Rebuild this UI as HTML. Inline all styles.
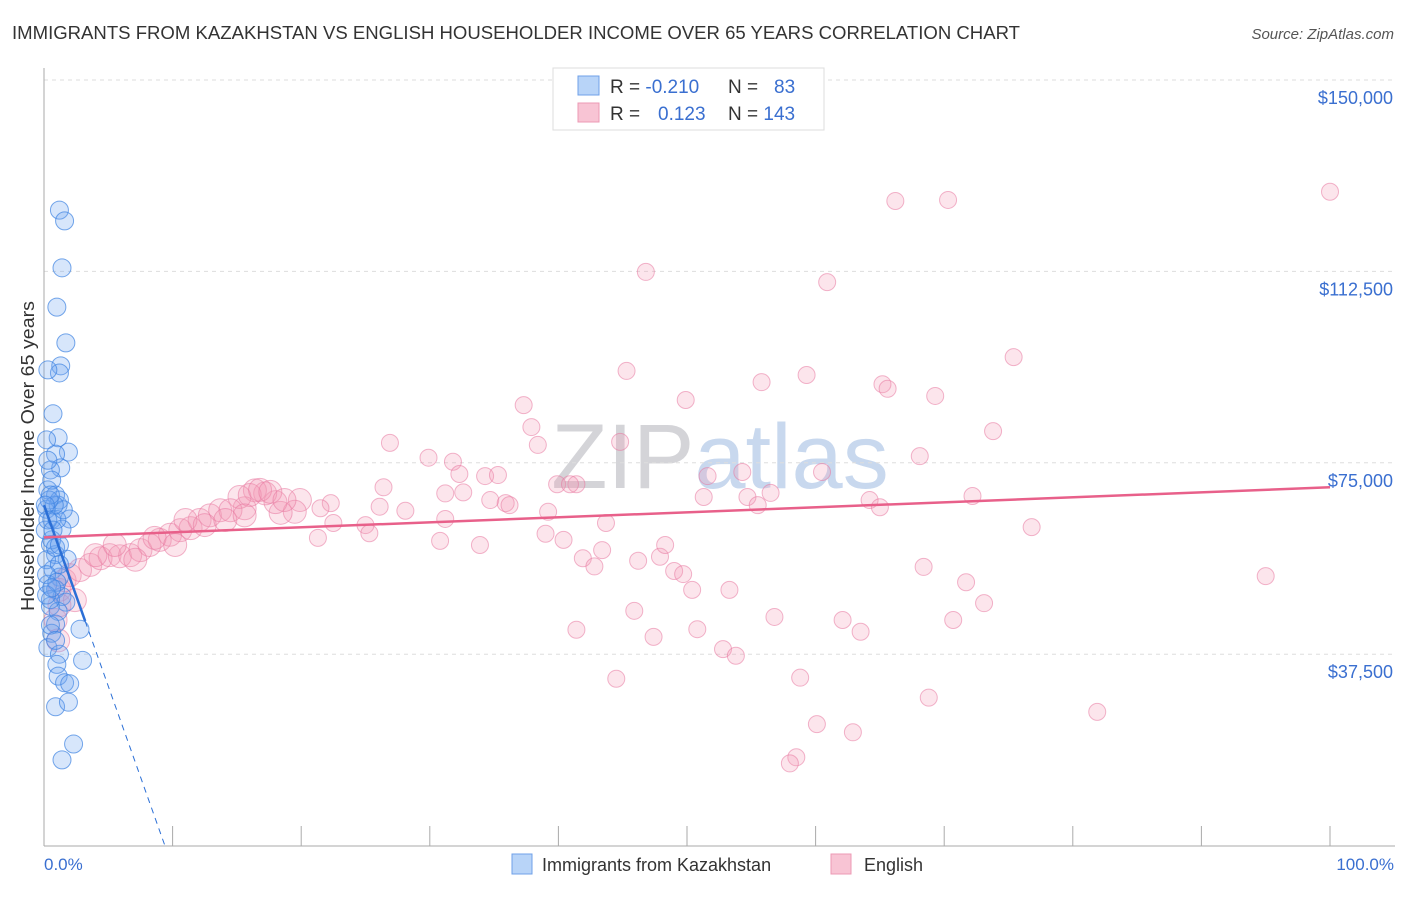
<!DOCTYPE html>
<html><head><meta charset="utf-8"><style>
body{margin:0;background:#fff;font-family:"Liberation Sans",sans-serif;}
svg text{font-family:"Liberation Sans",sans-serif;}
</style></head><body>
<svg id="c" width="1406" height="892" xmlns="http://www.w3.org/2000/svg">
<text x="12" y="39" font-size="18.6" fill="#333" textLength="1008" lengthAdjust="spacingAndGlyphs">IMMIGRANTS FROM KAZAKHSTAN VS ENGLISH HOUSEHOLDER INCOME OVER 65 YEARS CORRELATION CHART</text>
<text x="1394" y="39" font-size="15" fill="#555" font-style="italic" text-anchor="end">Source: ZipAtlas.com</text>
<text x="720" y="488" font-size="92" fill="#d8dde6" text-anchor="middle" font-family="Liberation Serif"><tspan fill="#d4d4d8">ZIP</tspan><tspan fill="#c8d8ee" font-family="Liberation Sans">atlas</tspan></text>
<g id="grid"></g><g id="axes"></g><g id="pts"></g><g id="trend"></g>
<text transform="translate(34,456) rotate(-90)" font-size="18" fill="#333" text-anchor="middle" textLength="310" lengthAdjust="spacingAndGlyphs">Householder Income Over 65 years</text>
<text x="44" y="870" font-size="17" fill="#3a6fd0">0.0%</text>
<text x="1394" y="870" font-size="17" fill="#3a6fd0" text-anchor="end">100.0%</text>
<g>
<rect x="553" y="68" width="271" height="62" fill="#fff" stroke="#ddd"/>
<rect x="578" y="76" width="21" height="19" fill="#b8d4f8" stroke="#6fa0e8"/>
<rect x="578" y="103" width="21" height="19" fill="#f8c4d4" stroke="#ec9ab4"/>
<text x="610" y="93" font-size="19" fill="#333">R = <tspan fill="#3a6fd0">-0.210</tspan></text>
<text x="728" y="93" font-size="19" fill="#333">N = <tspan fill="#3a6fd0" x="774">83</tspan></text>
<text x="610" y="120" font-size="19" fill="#333">R = <tspan fill="#3a6fd0" x="658">0.123</tspan></text>
<text x="728" y="120" font-size="19" fill="#333">N = <tspan fill="#3a6fd0">143</tspan></text>
</g>
<g>
<rect x="512" y="854" width="20" height="20" fill="#b8d4f8" stroke="#6fa0e8"/>
<text x="542" y="871" font-size="18" fill="#333">Immigrants from Kazakhstan</text>
<rect x="831" y="854" width="20" height="20" fill="#f8c4d4" stroke="#ec9ab4"/>
<text x="864" y="871" font-size="18" fill="#333">English</text>
</g>
</svg>
<script>
const yTicks=[37500,75000,112500,150000];
const yTickLabels=["$37,500","$75,000","$112,500","$150,000"];
const bluePct=[1.2,1.6,1.4,1.0,1.7,1.3,1.2,0.3,0.7,1.1,1.9,0.9,1.3,0.5,0.3,0.9,1.1,2.0,0.2,0.6,1.4,0.5,0.9,1.8,0.7,1.2,0.3,0.9,1.4,1.7,0.5,1.1,0.9,2.8,0.6,0.3,1.2,3.0,1.0,1.1,1.6,2.0,0.9,1.9,2.3,1.4,0.5,0.2,0.6,0.1,1.0,0.6,0.3,0.2,1.2,1.5,0.8,0.4,0.5,0.9,1.2,0.2,0.5,0.9,0.1,0.3,0.7,1.0,0.2,0.6,1.2];
const blueVal=[124.5,122.4,113.2,105.5,98.5,94.0,92.6,93.2,84.6,79.9,77.1,76.7,74.0,73.6,69.7,68.7,66.7,64.0,65.9,63.9,62.0,59.0,57.0,56.1,54.1,52.6,51.2,50.2,48.8,47.7,46.9,45.9,43.4,42.4,41.6,38.8,37.5,36.3,35.5,33.2,31.9,31.7,27.2,28.1,19.9,16.8,48.2,56.0,59.9,61.8,63.9,71.6,75.5,79.5,67.7,65.8,66.7,67.7,68.7,58.4,55.1,53.1,43.2,40.2,66.7,63.8,61.8,51.6,49.1,50.5,58.9];
const pinkPct=[100,66.2,70.3,46.8,60.9,75.4,45.3,59.3,55.8,65.2,65.6,69.3,49.9,37.3,37.9,73.8,26.9,38.4,44.8,29.9,31.8,32.3,34.3,35.3,41.4,39.9,40.9,54.3,51.6,60.5,68.1,26.4,31.2,32.6,34.7,35.9,36.2,51.3,54.7,55.5,56.5,64.2,65.0,72.2,39.2,43.7,76.8,31.2,28.1,26.1,25.0,22.3,22.5,21.5,19.9,19.5,18.4,18.0,17.2,16.4,15.6,15.2,21.3,25.3,30.8,33.9,39.0,40.4,43.4,41.9,42.8,46.2,47.9,48.3,49.0,49.7,50.4,53.3,68.4,71.7,73.1,95.0,45.9,41.4,47.4,50.8,56.8,62.1,63.5,70.7,52.8,53.8,58.8,44.5,68.8,81.9,60.1,62.9,58.5,58.0,
1.2,1.6,2.0,2.8,3.6,4.4,5.1,5.9,6.7,7.5,8.2,9.0,9.8,10.6,11.4,12.1,12.9,13.7,14.5,16.0,16.8,17.6,18.7,0.9,1.2,1.1,2.4,4.0,5.5,7.1,8.6,10.2,11.0,12.5,14.1,15.6];
const pinkVal=[128.1,126.3,126.5,112.4,110.4,95.7,93.0,92.2,90.8,90.4,89.5,88.1,87.3,86.3,82.0,81.2,78.9,78.5,79.1,76.0,75.2,72.8,72.4,72.6,70.8,70.8,70.8,73.2,72.4,73.2,76.3,70.2,69.0,69.2,67.7,67.1,66.7,68.3,68.3,66.7,69.1,67.7,66.3,68.5,65.4,63.2,62.4,64.0,65.6,66.4,62.8,67.1,63.2,66.1,67.7,65.4,65.2,67.3,69.0,69.6,66.1,68.3,60.3,61.2,59.7,58.9,61.1,59.9,57.9,56.3,54.7,55.8,56.6,58.9,53.8,53.2,50.1,50.1,54.6,51.6,47.5,52.8,46.0,42.3,40.9,42.4,44.8,44.2,41.9,44.2,38.5,37.2,32.9,32.7,29.0,26.2,23.8,22.2,17.3,16.1,
50.1,52.0,53.0,54.0,55.0,56.3,56.9,56.7,56.9,57.9,58.9,59.9,60.9,61.8,62.2,63.8,64.7,65.7,65.7,68.7,69.7,69.3,67.7,44.2,47.1,40.2,48.1,56.9,58.9,56.0,60.3,58.9,63.8,62.8,63.8,64.7];
const blueTrend=[66700];
const blueZeroPct=9.4, blueSolidEndPct=3.2;
const pinkTrend=[60400,70200];

const NS="http://www.w3.org/2000/svg";
const X0=44,X1=1330,YB=845.6,PX=191.4/37500;
const xs=p=>X0+(X1-X0)*p/100;
const ys=v=>YB-v*PX;
function mk(tag,attrs,parent){const e=document.createElementNS(NS,tag);for(const k in attrs)e.setAttribute(k,attrs[k]);document.getElementById(parent).appendChild(e);return e;}
yTicks.forEach((t,i)=>{
 const l=mk('line',{x1:X0,x2:1395,y1:ys(t),y2:ys(t),stroke:'#ddd','stroke-dasharray':'4,4'},'grid');
 
 
 const tx=mk('text',{x:1393,y:ys(t)+24,'font-size':18,fill:'#3a6fd0','text-anchor':'end'},'grid');
 tx.textContent=yTickLabels[i];
 
 
});
const ya=mk('line',{x1:X0,x2:X0,y1:68,y2:846,stroke:'#aaa'},'axes');


const xa=mk('line',{x1:X0,x2:1395,y1:846,y2:846,stroke:'#aaa'},'axes');


for(let i=1;i<=10;i++){const t=mk('line',{x1:xs(i*10),x2:xs(i*10),y1:826,y2:846,stroke:'#aaa'},'axes');
 
 }
pinkPct.forEach((p,i)=>{const big=p<20;
 const c=mk('circle',{cx:xs(p),cy:ys(pinkVal[i]*1000),r:big?11.5:8.5,fill:'rgba(242,150,180,0.25)',stroke:'rgba(232,120,160,0.55)','stroke-width':1},'pts');
 
 });
bluePct.forEach((p,i)=>{
 const c=mk('circle',{cx:xs(p),cy:ys(blueVal[i]*1000),r:9,fill:'rgba(110,165,240,0.28)',stroke:'rgba(60,130,225,0.7)','stroke-width':1},'pts');
 
 });
const bv=p=>blueTrend[0]*(1-p/blueZeroPct);
const b1=mk('line',{x1:xs(0),y1:ys(bv(0)),x2:xs(blueSolidEndPct),y2:ys(bv(blueSolidEndPct)),stroke:'#2b6fd6','stroke-width':2.5},'trend');


const b2=mk('line',{x1:xs(blueSolidEndPct),y1:ys(bv(blueSolidEndPct)),x2:xs(blueZeroPct),y2:ys(0),stroke:'#2b6fd6','stroke-width':1,'stroke-dasharray':'6,5'},'trend');


const p1=mk('line',{x1:xs(0),y1:ys(pinkTrend[0]),x2:xs(100),y2:ys(pinkTrend[1]),stroke:'#e8608a','stroke-width':2.5},'trend');


</script>
</body></html>
